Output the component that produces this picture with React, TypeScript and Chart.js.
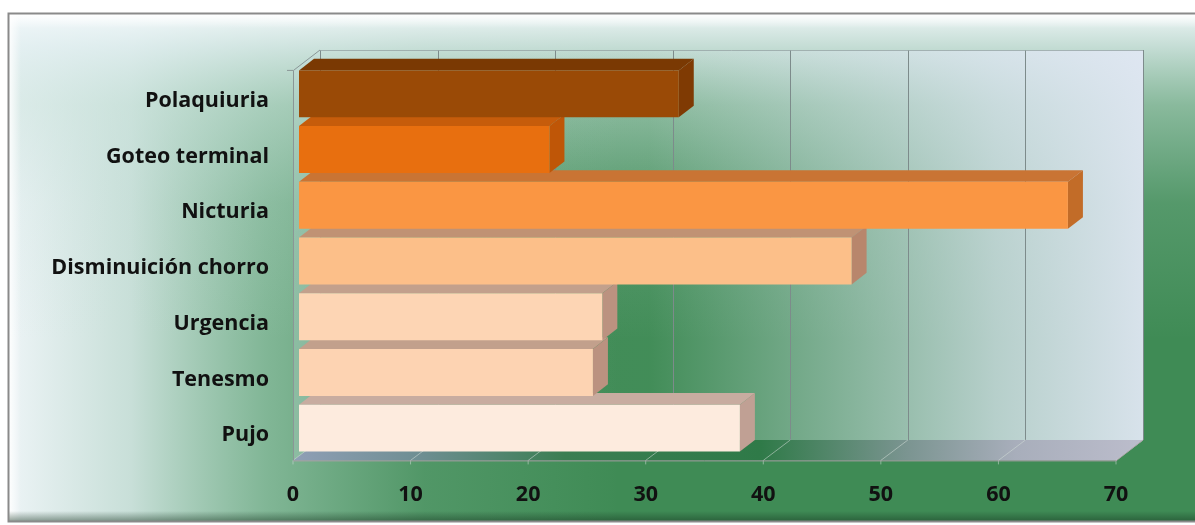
import React, { useEffect, useRef } from "react";
import { Chart, registerables } from "chart.js";

Chart.register(...registerables);

// Symptoms and their share (%)
const categories = [
  "Polaquiuria",
  "Goteo terminal",
  "Nicturia",
  "Disminuición chorro",
  "Urgencia",
  "Tenesmo",
  "Pujo",
];
const values = [32.3, 21.3, 65.4, 47, 25.8, 25, 37.5];

// Bar face colours (front, top, right side)
const frontColors = ["#9a4a06", "#e86f0f", "#fa9643", "#fcbf89", "#fdd5b4", "#fdd3b2", "#fdebde"];
const topColors = ["#7a3903", "#c65c0b", "#c97434", "#c09274", "#c2a08c", "#c2a08c", "#c8aca0"];
const sideColors = ["#7f3a03", "#bf5607", "#c26c28", "#b8866c", "#bb9280", "#bb9280", "#c0a094"];

const xMin = 0;
const xMax = 70;
const xStep = 10;

const W = 1195;
const H = 525;

// Oblique depth offsets relative to the bar (data) plane
const FRONT = { dx: -6, dy: 4.4 };
const BAR_BACK = { dx: 15, dy: -11.6 };
const WALL = { dx: 21, dy: -16 };

const FONT = "'Open Sans', Lato, sans-serif";

function drawBackground(chart: any) {
  const ctx: CanvasRenderingContext2D = chart.ctx;
  ctx.save();
  ctx.fillStyle = "#ffffff";
  ctx.fillRect(0, 0, W, H);

  const x0 = 9, y0 = 14, x1 = 1195, y1 = 521;
  ctx.fillStyle = "#3f8b55";
  ctx.fillRect(x0, y0, x1 - x0, y1 - y0);

  let g = ctx.createLinearGradient(x0, 0, 620, 0);
  g.addColorStop(0, "rgba(242,247,251,0.97)");
  g.addColorStop(0.2, "rgba(226,239,241,0.84)");
  g.addColorStop(0.42, "rgba(190,222,210,0.52)");
  g.addColorStop(0.68, "rgba(190,222,210,0.14)");
  g.addColorStop(1, "rgba(190,222,210,0)");
  ctx.fillStyle = g;
  ctx.fillRect(x0, y0, x1 - x0, y1 - y0);

  g = ctx.createLinearGradient(0, y0, 0, 340);
  g.addColorStop(0, "rgba(242,248,250,0.97)");
  g.addColorStop(0.1, "rgba(226,239,241,0.82)");
  g.addColorStop(0.28, "rgba(205,228,222,0.52)");
  g.addColorStop(0.58, "rgba(200,225,220,0.16)");
  g.addColorStop(1, "rgba(200,225,220,0)");
  ctx.fillStyle = g;
  ctx.fillRect(x0, y0, x1 - x0, y1 - y0);

  // bevel highlights and shadows
  g = ctx.createLinearGradient(0, y0, 0, y0 + 14);
  g.addColorStop(0, "rgba(255,255,255,0.95)");
  g.addColorStop(1, "rgba(255,255,255,0)");
  ctx.fillStyle = g;
  ctx.fillRect(x0, y0, x1 - x0, 14);
  g = ctx.createLinearGradient(x0, 0, x0 + 12, 0);
  g.addColorStop(0, "rgba(255,255,255,0.9)");
  g.addColorStop(1, "rgba(255,255,255,0)");
  ctx.fillStyle = g;
  ctx.fillRect(x0, y0, 12, y1 - y0);
  g = ctx.createLinearGradient(0, y1 - 10, 0, y1);
  g.addColorStop(0, "rgba(20,50,30,0)");
  g.addColorStop(1, "rgba(20,50,30,0.45)");
  ctx.fillStyle = g;
  ctx.fillRect(x0, y1 - 10, x1 - x0, 10);

  ctx.strokeStyle = "#8a8a8a";
  ctx.lineWidth = 2;
  ctx.strokeRect(x0 - 0.5, y0 - 0.5, x1 - x0 + 2, y1 - y0 + 1);
  ctx.restore();
}

function drawWalls(chart: any) {
  const ctx: CanvasRenderingContext2D = chart.ctx;
  const xs = chart.scales.x;
  const area = chart.chartArea;
  const l = xs.getPixelForValue(xMin);
  const r = xs.getPixelForValue(xMax);
  const t = area.top;
  const b = area.bottom;
  ctx.save();

  // back wall
  const wl = l + WALL.dx, wr = r + WALL.dx, wt = t + WALL.dy, wb = b + WALL.dy;
  let g = ctx.createLinearGradient(wl, 0, wr, 0);
  g.addColorStop(0, "rgba(222,230,242,0)");
  g.addColorStop(0.4, "rgba(222,230,242,0.02)");
  g.addColorStop(0.62, "rgba(222,230,242,0.4)");
  g.addColorStop(0.82, "rgba(222,230,242,0.75)");
  g.addColorStop(1, "rgba(224,231,243,0.95)");
  ctx.fillStyle = g;
  ctx.fillRect(wl, wt, wr - wl, wb - wt);

  // left wall
  const fl = l + FRONT.dx, ft = t + FRONT.dy, fb = b + FRONT.dy;
  ctx.fillStyle = "rgba(200,225,225,0.25)";
  ctx.beginPath();
  ctx.moveTo(fl, ft);
  ctx.lineTo(wl, wt);
  ctx.lineTo(wl, wb);
  ctx.lineTo(fl, fb);
  ctx.closePath();
  ctx.fill();

  // floor
  const fr = r + FRONT.dx;
  g = ctx.createLinearGradient(fl, 0, wr, 0);
  g.addColorStop(0, "#909fb6");
  g.addColorStop(0.15, "#6e8e92");
  g.addColorStop(0.32, "#3a7e52");
  g.addColorStop(0.55, "#2f7a48");
  g.addColorStop(0.72, "#7a9490");
  g.addColorStop(0.85, "#a8aebb");
  g.addColorStop(1, "#bcbdcc");
  ctx.fillStyle = g;
  ctx.beginPath();
  ctx.moveTo(fl, fb);
  ctx.lineTo(wl, wb);
  ctx.lineTo(wr, wb);
  ctx.lineTo(fr, fb);
  ctx.closePath();
  ctx.fill();

  // gridlines on the back wall and across the floor
  const ticks = xs.ticks;
  ctx.lineWidth = 1;
  for (const tk of ticks) {
    const px = xs.getPixelForValue(tk.value);
    const bx = Math.round(px + WALL.dx) + 0.5;
    ctx.strokeStyle = "#7d8b8b";
    ctx.beginPath();
    ctx.moveTo(bx, wt);
    ctx.lineTo(bx, wb);
    ctx.stroke();
    ctx.strokeStyle = "rgba(210,220,215,0.55)";
    ctx.beginPath();
    ctx.moveTo(px + FRONT.dx, fb);
    ctx.lineTo(px + WALL.dx, wb);
    ctx.stroke();
    ctx.beginPath();
    ctx.moveTo(px + FRONT.dx, fb);
    ctx.lineTo(px + FRONT.dx, fb + 4);
    ctx.stroke();
  }

  // top edge of back wall
  ctx.strokeStyle = "rgba(150,165,165,0.8)";
  ctx.beginPath();
  ctx.moveTo(wl, wt + 0.5);
  ctx.lineTo(wr, wt + 0.5);
  ctx.stroke();

  // floor front edge
  ctx.strokeStyle = "rgba(175,160,170,0.9)";
  ctx.beginPath();
  ctx.moveTo(fl, fb + 0.5);
  ctx.lineTo(fr, fb + 0.5);
  ctx.lineTo(wr, wb);
  ctx.stroke();

  // left axis edge
  ctx.strokeStyle = "#8a9696";
  ctx.beginPath();
  ctx.moveTo(Math.round(fl) + 0.5, fb);
  ctx.lineTo(Math.round(fl) + 0.5, ft);
  ctx.lineTo(wl, wt);
  ctx.moveTo(fl - 6, ft);
  ctx.lineTo(fl, ft);
  ctx.stroke();

  ctx.restore();
}

function drawBarDepth(chart: any) {
  const ctx: CanvasRenderingContext2D = chart.ctx;
  const meta = chart.getDatasetMeta(0);
  ctx.save();
  for (let i = meta.data.length - 1; i >= 0; i--) {
    const bar: any = meta.data[i];
    const p = bar.getProps(["x", "y", "base", "height"], true);
    const x0 = p.base, x1 = p.x;
    const y0 = p.y - p.height / 2, y1 = p.y + p.height / 2;
    const dx = BAR_BACK.dx, dy = BAR_BACK.dy;
    // top face
    ctx.fillStyle = topColors[i];
    ctx.beginPath();
    ctx.moveTo(x0, y0);
    ctx.lineTo(x0 + dx, y0 + dy);
    ctx.lineTo(x1 + dx, y0 + dy);
    ctx.lineTo(x1, y0);
    ctx.closePath();
    ctx.fill();
    // right face
    ctx.fillStyle = sideColors[i];
    ctx.beginPath();
    ctx.moveTo(x1, y0);
    ctx.lineTo(x1 + dx, y0 + dy);
    ctx.lineTo(x1 + dx, y1 + dy);
    ctx.lineTo(x1, y1);
    ctx.closePath();
    ctx.fill();
  }
  ctx.restore();
}

const scenePlugin = {
  id: "scene3d",
  beforeDraw(chart: any) {
    drawBackground(chart);
    drawWalls(chart);
  },
  beforeDatasetsDraw(chart: any) {
    drawBarDepth(chart);
  },
};

export default function App() {
  const canvasRef = useRef<HTMLCanvasElement | null>(null);

  useEffect(() => {
    const canvas = canvasRef.current;
    if (!canvas) return;
    const chart = new Chart(canvas, {
      type: "bar",
      data: {
        labels: categories,
        datasets: [
          {
            data: values,
            backgroundColor: frontColors,
            borderWidth: 0,
            barPercentage: 0.842,
            categoryPercentage: 1,
          },
        ],
      },
      options: {
        indexAxis: "y",
        animation: false,
        responsive: false,
        devicePixelRatio: 1,
        layout: { padding: { top: 66, right: 73, bottom: 0, left: 0 } },
        plugins: {
          legend: { display: false },
          tooltip: { enabled: false },
        },
        scales: {
          x: {
            min: xMin,
            max: xMax,
            grid: { display: false, drawTicks: false },
            border: { display: false },
            ticks: {
              stepSize: xStep,
              padding: 26,
              labelOffset: FRONT.dx,
              color: "#111111",
              font: { family: FONT, size: 21.5, weight: "bold" },
            },
            afterFit(scale: any) {
              scale.height = 69;
            },
          },
          y: {
            grid: { display: false, drawTicks: false },
            border: { display: false },
            ticks: {
              padding: 30,
              labelOffset: 7,
              color: "#111111",
              font: { family: FONT, size: 21.5, weight: "bold" },
            },
            afterFit(scale: any) {
              scale.width = 299;
            },
          },
        },
      },
      plugins: [scenePlugin],
    });
    return () => chart.destroy();
  }, []);

  return (
    <div style={{ position: "absolute", left: 0, top: 0, width: W, height: H }}>
      <canvas ref={canvasRef} width={W} height={H} style={{ display: "block" }} />
    </div>
  );
}
